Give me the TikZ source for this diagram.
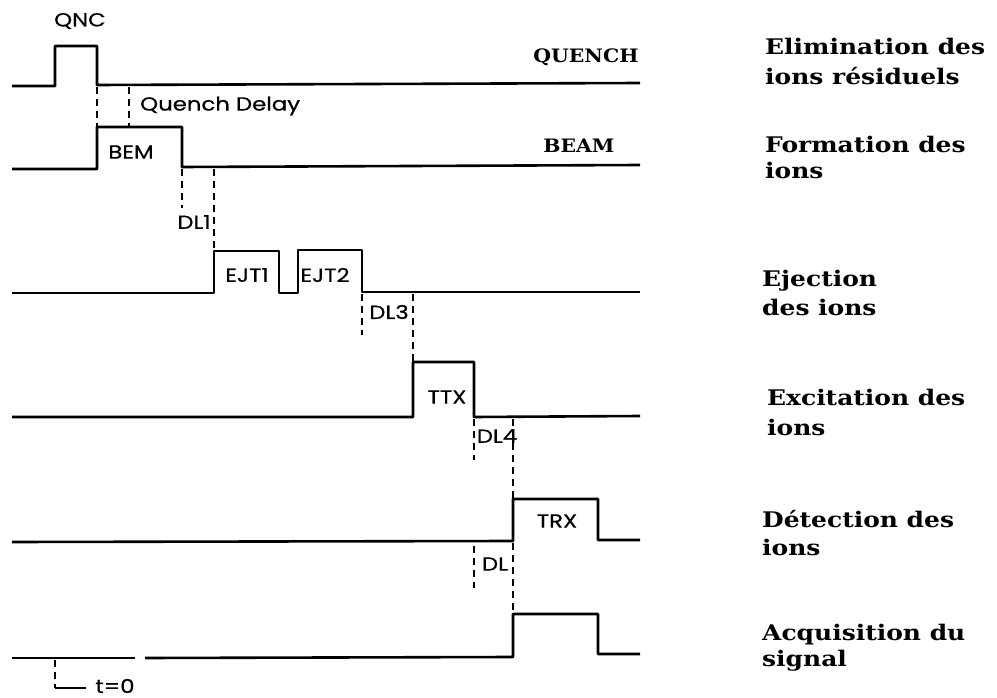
\documentclass[tikz,border=0pt]{standalone}
\usepackage{fontspec}
\newfontfamily\sigfont{Poppins}[FakeStretch=1.2,FakeBold=0.6]
\newfontfamily\lblfont{DejaVu Serif}[FakeStretch=1.16]
\newfontfamily\capfont{DejaVu Serif}[FakeStretch=1.1]
\begin{document}
\begin{tikzpicture}[x=1pt,y=-1pt,
  sig/.style={line width=2.6pt,line join=round},
  dl/.style={line width=2.2pt,dash pattern=on 7pt off 5pt},
  small/.style={font=\sigfont\fontsize{19}{19}\selectfont,inner sep=0pt},
  side/.style={font=\lblfont\bfseries\fontsize{21.5}{21.5}\selectfont,anchor=base west,inner sep=0pt},
  big/.style={font=\capfont\bfseries\fontsize{18.5}{18.5}\selectfont,inner sep=0pt}]
\useasboundingbox (0,0) rectangle (997,698);
% signals
\draw[sig] (12,86) -- (55,86) -- (55,46) -- (97,46) -- (97,85) -- (640,83);
\draw[sig] (12,169) -- (97,169) -- (97,127) -- (182,127) -- (182,167) -- (640,165);
\draw[sig] (12,293) -- (214,293) -- (214,251) -- (279,251) -- (279,293) -- (298,293) -- (298,250) -- (362,250) -- (362,292) -- (640,292);
\draw[sig] (12,417) -- (413,417) -- (413,362) -- (474,362) -- (474,417) -- (640,416);
\draw[sig] (12,542) -- (513,541) -- (513,499) -- (598,499) -- (598,540) -- (640,540);
\draw[sig] (12,658) -- (135,658);
\draw[sig] (145,658) -- (513,657) -- (513,614) -- (598,614) -- (598,654) -- (640,654);
% dashed delays
\draw[dl] (97,87) -- (97,127);
\draw[dl] (129,87) -- (129,127);
\draw[dl] (182,169) -- (182,208);
\draw[dl] (214,169) -- (214,251);
\draw[dl] (362,294) -- (362,335);
\draw[dl] (413,294) -- (413,362);
\draw[dl] (474,419) -- (474,460);
\draw[dl] (513,419) -- (513,499);
\draw[dl] (474,546) -- (474,588);
\draw[dl] (513,543) -- (513,614);
\draw[dl] (55,660) -- (55,688);
\draw[line width=2pt] (55,688) -- (86,688);
% labels
\node[small] (qnc) at (80,21) {QNC};
\node[small,anchor=west] (qd) at (140,106) {Quench Delay};
\node[small] (bem) at (131,152) {BEM};
\node[small] (dl1) at (194,222) {DL1};
\node[small] (ejt1) at (247,275) {EJT1};
\node[small] (ejt2) at (325,275) {EJT2};
\node[small] (dl3) at (389,312) {DL3};
\node[small] (ttx) at (447,397) {TTX};
\node[small] (dl4) at (497,436) {DL4};
\node[small] (trx) at (557,521) {TRX};
\node[small] (dl) at (495,564) {DL};
\node[small] (t0) at (115,686) {t=0};
\node[big] (quench) at (586,57) {QUENCH};
\node[big] (beam) at (579,146) {BEAM};
\node[side] (l1a) at (765,55) {Elimination des};
\node[side] (l1b) at (765,85) {ions résiduels};
\node[side] (l2a) at (765,153) {Formation des};
\node[side] (l2b) at (765,179) {ions};
\node[side] (l3a) at (762,287) {Ejection};
\node[side] (l3b) at (762,315) {des ions};
\node[side] (l4a) at (767,405) {Excitation des};
\node[side] (l4b) at (767,435) {ions};
\node[side] (l5a) at (762,527) {Détection des};
\node[side] (l5b) at (762,555) {ions};
\node[side] (l6a) at (762,640) {Acquisition du};
\node[side] (l6b) at (762,666) {signal};
\end{tikzpicture}
\end{document}
